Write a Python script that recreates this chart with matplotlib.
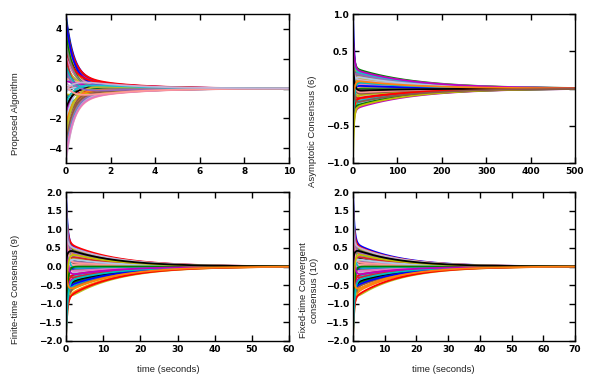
import numpy as np
import matplotlib
matplotlib.use("Agg")
import matplotlib.pyplot as plt

# agent states: initial value and value left after the fast transient
x0_prop = [4.9, 4.7, 4.4, 4.1, 3.8, 3.5, 3.1, 2.8, 2.5, 2.2, 1.9, 1.6, 1.3, 1.0, 0.7, 0.4, 0.1, -0.2,
           -0.5, -0.8, -1.1, -1.4, -1.7, -2.0, -2.3, -2.6, -2.9, -3.2, -3.5, -3.8, -4.1, -4.4, -4.7, -4.9, 2.0, -2.2,
           4.5, 3.6, 2.6, 1.5, 0.5, -0.4, -1.3, -2.4, -3.4, -4.5, 3.0, -3.0, 1.2, -1.0, 0.2, -0.1]
xm_prop = [0.8, 0.65, 0.9, 0.5, 0.7, 0.35, 0.55, 0.6, 0.2, 0.45, -0.1, 0.3, 0.15, -0.4, 0.5, -0.25, 0.05, 0.25,
           -0.5, 0.1, -0.15, -0.6, 0.35, -0.3, -0.7, -0.45, -0.2, -0.65, -0.8, -0.35, -0.55, -0.75, -0.9, -0.7, -0.6, 0.6,
           0.4, -0.05, 0.75, -0.2, 0.4, -0.55, 0.2, -0.1, -0.4, -0.85, 0.1, 0.3, -0.3, 0.45, -0.75, 0.7]

x0_asym = [1.0, 0.65, 0.55, 0.45, 0.38, 0.3, 0.25, 0.2, 0.15, 0.1, 0.05, 0.0, -0.05, -0.1, -0.15, -0.2,
           -0.25, -0.3, -0.35, -0.4, -0.45, -0.5, -0.6, -0.95, 0.42, -0.28, 0.33, -0.12, 0.08, -0.42, 0.21,
           0.6, 0.5, 0.28, 0.12, -0.02, -0.18, -0.32, -0.48, -0.55, 0.72, -0.7, 0.35, -0.22, 0.02]
xm_asym = [0.2, 0.28, 0.15, 0.22, 0.1, 0.25, 0.05, 0.18, -0.05, 0.12, 0.2, -0.1, 0.08, -0.18, 0.02, -0.22,
           0.1, -0.12, -0.25, 0.0, -0.15, -0.2, -0.28, -0.1, -0.05, 0.14, -0.08, 0.06, -0.02, 0.16, 0.21,
           0.24, -0.06, 0.13, -0.15, 0.17, 0.04, -0.24, -0.14, 0.09, 0.26, -0.26, -0.03, 0.11, -0.2]

x0_finite = [2.0, 1.8, 1.6, 1.45, 1.3, 1.15, 1.0, 0.85, 0.7, 0.55, 0.4, 0.25, 0.1, -0.05, -0.2, -0.35,
             -0.5, -0.65, -0.8, -0.95, -1.1, -1.25, -1.4, -1.55, -1.7, -1.85, -2.0, 0.6, -0.6, 0.0,
             1.9, 1.5, 1.2, 0.9, 0.3, -0.3, -0.9, -1.2, -1.5, -1.9, 0.75, -0.75, 0.15, -0.15]
xm_finite = [0.6, 0.5, 0.65, 0.3, 0.45, 0.55, 0.2, 0.4, 0.1, 0.35, -0.1, 0.25, 0.15, -0.3, 0.05, -0.2,
             0.3, -0.4, -0.05, -0.5, -0.25, -0.6, -0.35, -0.7, -0.45, -0.8, -0.65, -0.15, 0.5, -0.9,
             0.42, -0.05, 0.12, 0.58, -0.35, 0.22, -0.55, 0.0, -0.85, -0.4, -0.25, 0.38, 0.48, -0.68]

x0_fixed = [2.0, 1.75, 1.6, 1.4, 1.25, 1.1, 0.95, 0.8, 0.65, 0.5, 0.35, 0.2, 0.05, -0.1, -0.25, -0.4,
            -0.55, -0.7, -0.85, -1.0, -1.15, -1.3, -1.45, -1.6, -1.75, -1.9, -2.0, 0.55, -0.5, 0.0,
            1.85, 1.5, 1.2, 0.9, 0.3, -0.3, -0.9, -1.2, -1.5, -1.85, 0.75, -0.75, 0.15, -0.15]
xm_fixed = [0.65, 0.5, 0.6, 0.35, 0.45, 0.55, 0.25, 0.4, 0.1, 0.3, -0.1, 0.2, 0.15, -0.3, 0.05, -0.2,
            0.3, -0.45, -0.05, -0.5, -0.25, -0.6, -0.35, -0.7, -0.45, -0.75, -0.6, -0.15, 0.5, -0.9,
            0.42, -0.05, 0.12, 0.58, -0.35, 0.22, -0.55, 0.0, -0.85, -0.4, -0.25, 0.38, 0.48, -0.68]

# (x0, xm, t_end, fast tau, slow tau, xticks, yticks, ylim, ylabel, label pos px)
panels = [
    (x0_prop, xm_prop, 10, 0.35, 2.2, range(0, 11, 2), [-4, -2, 0, 2, 4], 5,
     "Proposed Algorithm", (16, 114)),
    (x0_asym, xm_asym, 500, 3.0, 135, range(0, 501, 100), np.arange(-1, 1.01, 0.5), 1,
     "Asymptotic Consensus (6)", (312, 131)),
    (x0_finite, xm_finite, 60, 0.45, 13, range(0, 61, 10), np.arange(-2, 2.01, 0.5), 2,
     "Finite-time Consensus (9)", (16, 289)),
    (x0_fixed, xm_fixed, 70, 0.45, 14, range(0, 71, 10), np.arange(-2, 2.01, 0.5), 2,
     "Fixed-time Convergent\nconsensus (10)", (309, 290)),
]

colors = ['b', 'g', 'r', 'c', 'm', 'y', 'k', '#ff7f0e', '#8c564b', '#e377c2', '#7f7f7f',
          '#bcbd22', '#9467bd', '#17becf', '#ff9896', '#c5b0d5', '#d62728', '#aec7e8']

W, H = 594, 387
fig = plt.figure(figsize=(W / 100, H / 100), dpi=100)
boxes = [(66, 14, 289, 163), (353, 14, 575, 163), (66, 192, 289, 341), (353, 192, 575, 341)]

for (x0, xm, T, tf, ts, xt, yt, yl, lab, lp), (l, t, r, b) in zip(panels, boxes):
    ax = fig.add_axes([l / W, 1 - b / H, (r - l) / W, (b - t) / H])
    tt = np.linspace(0, T, 600)
    for i, (a, m) in enumerate(zip(x0, xm)):
        y = (a - m) * np.exp(-tt / tf) + m * np.exp(-tt / ts)
        ax.plot(tt, y, color=colors[i % len(colors)], lw=1.3)
    ax.set_xlim(0, T)
    ax.set_ylim(-yl, yl)
    ax.set_xticks(list(xt))
    ax.set_yticks(yt)
    ax.tick_params(direction='in', top=True, right=True, length=4, width=1, labelsize=6.5, pad=3)
    for lbl in ax.get_xticklabels() + ax.get_yticklabels():
        lbl.set_fontweight('bold')
    for s in ax.spines.values():
        s.set_linewidth(1)
    fig.text(lp[0] / W, 1 - lp[1] / H, lab, rotation=90, ha='center', va='center',
             fontsize=6.8, family='Liberation Sans', color='#222222', linespacing=1.3)

fig.text(168 / W, 1 - 370 / H, "time (seconds)", ha='center', va='center',
         fontsize=6.8, family='Liberation Sans', color='#222222')
fig.text(443 / W, 1 - 370 / H, "time (seconds)", ha='center', va='center',
         fontsize=6.8, family='Liberation Sans', color='#222222')

fig.savefig("out.png", dpi=100)
